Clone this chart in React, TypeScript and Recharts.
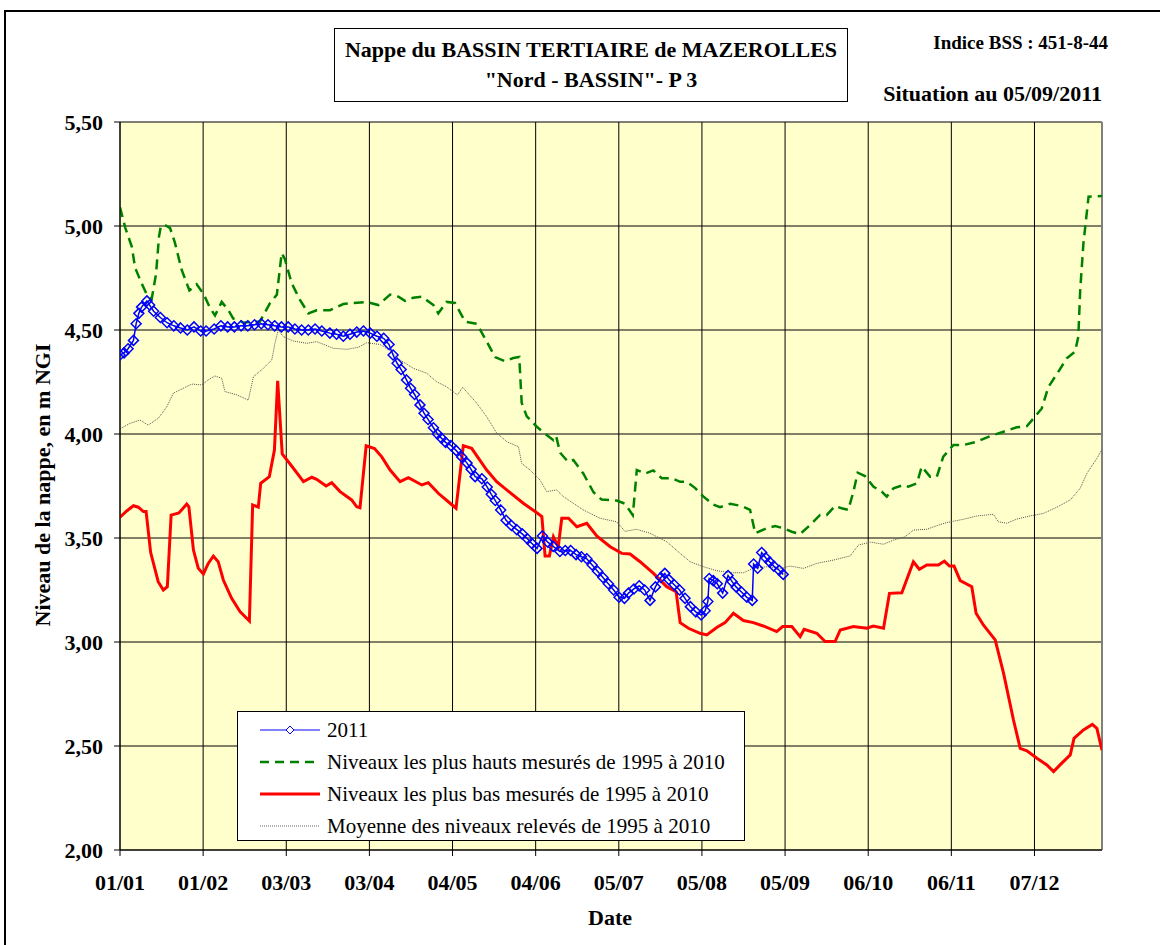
import React from 'react';
import {
  LineChart,
  Line,
  XAxis,
  YAxis,
  CartesianGrid,
  Legend,
  ReferenceLine
} from 'recharts';

// day of year (0 = 01/01) and level in m NGI
const days2011 = [0, 1.5, 3, 5, 6, 7, 8, 10, 11, 12.5, 15, 17.5, 20, 22.5, 25, 27.5, 30, 32, 35, 37.5, 40, 42.5, 45, 47.5, 50, 52.5, 55, 57.5, 60, 62.5, 65, 67.5, 70, 72.5, 75, 78, 80.5, 83, 85.5, 88, 90.5, 93, 95.5, 98, 100, 101.5, 103, 104.5, 106.5, 108, 109.5, 111.5, 113, 114.5, 116.5, 118, 119.5, 121, 123, 125, 127, 129, 130.5, 132, 134.5, 136.5, 138, 139.5, 141.5, 143.5, 145.5, 147.5, 149.5, 151.5, 153, 155, 157, 159, 161, 163.5, 165.5, 167.5, 169.5, 171.5, 173.5, 175.5, 177.5, 179.5, 181.5, 183.5, 185.5, 187.5, 189, 191, 193, 195, 197, 199, 201, 202.5, 204, 206, 208, 210, 212, 214, 216, 217.5, 218.5, 219, 220.5, 222, 224, 226, 227.5, 229, 231, 233, 235, 235.5, 237, 238.5, 240, 241.5, 243, 245, 246.5];
const level2011 = [4.38, 4.39, 4.41, 4.45, 4.53, 4.58, 4.61, 4.64, 4.62, 4.59, 4.56, 4.535, 4.52, 4.51, 4.5, 4.515, 4.495, 4.495, 4.505, 4.52, 4.515, 4.515, 4.52, 4.52, 4.525, 4.53, 4.525, 4.52, 4.515, 4.515, 4.505, 4.5, 4.5, 4.505, 4.495, 4.485, 4.48, 4.47, 4.48, 4.49, 4.495, 4.485, 4.47, 4.46, 4.43, 4.38, 4.34, 4.31, 4.26, 4.22, 4.19, 4.14, 4.1, 4.07, 4.03, 4.0, 3.98, 3.96, 3.945, 3.92, 3.89, 3.86, 3.83, 3.795, 3.785, 3.745, 3.71, 3.68, 3.635, 3.585, 3.56, 3.54, 3.52, 3.495, 3.475, 3.45, 3.51, 3.48, 3.46, 3.435, 3.44, 3.44, 3.42, 3.41, 3.4, 3.37, 3.34, 3.31, 3.28, 3.25, 3.215, 3.21, 3.235, 3.255, 3.27, 3.25, 3.2, 3.265, 3.31, 3.33, 3.3, 3.275, 3.25, 3.21, 3.17, 3.145, 3.13, 3.15, 3.195, 3.305, 3.295, 3.28, 3.235, 3.32, 3.29, 3.265, 3.24, 3.215, 3.2, 3.375, 3.355, 3.43, 3.405, 3.385, 3.365, 3.345, 3.325];

const daysHigh = [0, 2, 4.4, 5.6, 8, 10, 11.8, 13.4, 14.5, 15.2, 16.7, 18.6, 20.4, 22.9, 25.8, 28.5, 31, 33.5, 35.3, 37.8, 40.3, 42.1, 44, 45.8, 49, 52, 55.8, 58.3, 60.1, 61.3, 63.8, 66.9, 70, 73.1, 78, 83, 86.7, 91.7, 96, 100.4, 103.5, 105.9, 109, 112.2, 116.5, 118.3, 121.4, 124.5, 128.3, 132.6, 136.3, 139.4, 143.1, 146.2, 148.4, 149.3, 151.2, 154.9, 158.6, 161.1, 162.1, 163.6, 166.5, 168.5, 172.2, 176, 179, 184.6, 187.7, 190.6, 192.1, 195.2, 198.2, 201.4, 205.1, 208.2, 210.7, 213.8, 216.8, 220.6, 223, 226.8, 231.1, 234.2, 236.1, 240.4, 243.5, 246.6, 249.7, 252.8, 256.5, 260.2, 262.7, 265.8, 268.2, 270.7, 272.6, 274.2, 276.9, 280, 283.1, 285, 287.5, 291.2, 293, 296.2, 298, 301.1, 303.6, 306, 309.8, 313.5, 318.5, 323.4, 328.4, 333.3, 337.1, 340.1, 342.6, 345.1, 348.8, 351.9, 355, 356.2, 356.9, 358.1, 360, 365];
const levelHigh = [5.09, 4.99, 4.9, 4.8, 4.725, 4.67, 4.65, 4.77, 4.95, 5.0, 5.005, 4.99, 4.92, 4.79, 4.69, 4.72, 4.675, 4.605, 4.57, 4.635, 4.595, 4.555, 4.55, 4.535, 4.54, 4.54, 4.63, 4.67, 4.87, 4.84, 4.725, 4.645, 4.58, 4.595, 4.595, 4.625, 4.63, 4.635, 4.62, 4.67, 4.66, 4.64, 4.655, 4.66, 4.62, 4.58, 4.635, 4.63, 4.54, 4.53, 4.445, 4.37, 4.35, 4.365, 4.37, 4.15, 4.085, 4.035, 3.995, 3.97, 3.99, 3.91, 3.867, 3.875, 3.81, 3.72, 3.685, 3.68, 3.665, 3.61, 3.827, 3.81, 3.825, 3.787, 3.787, 3.77, 3.77, 3.74, 3.7, 3.66, 3.648, 3.664, 3.654, 3.635, 3.523, 3.547, 3.558, 3.547, 3.53, 3.519, 3.562, 3.611, 3.611, 3.654, 3.643, 3.635, 3.723, 3.814, 3.798, 3.747, 3.723, 3.699, 3.739, 3.755, 3.747, 3.763, 3.843, 3.795, 3.795, 3.891, 3.947, 3.947, 3.963, 3.99, 4.011, 4.032, 4.038, 4.083, 4.123, 4.227, 4.3, 4.364, 4.396, 4.468, 4.692, 4.917, 5.141, 5.144];

const daysLow = [0, 2.5, 5, 6.8, 8.7, 9.7, 11.4, 14.2, 16.1, 17.6, 19, 21.9, 24.8, 25.6, 27.3, 29.1, 31, 32.8, 34.7, 36.5, 38.4, 41.5, 44.6, 48.1, 49.3, 51.4, 52.3, 55.5, 57.4, 58.6, 60.3, 63.8, 68.2, 71.3, 73.1, 76.6, 78.7, 81.8, 86.1, 88, 89.2, 91.5, 94.6, 97.3, 100.4, 104.1, 107.2, 112.2, 114.6, 118.3, 122.7, 124.9, 127.6, 130.7, 136.3, 140, 145, 149.9, 154.3, 156.8, 158, 159.6, 161.1, 162.9, 164.2, 166.7, 169.8, 173.5, 177.2, 182.2, 186.5, 189.6, 193.3, 198.3, 203.2, 206.7, 208.2, 211.3, 215.6, 218.1, 221.8, 224.9, 228, 231.7, 235.4, 239.1, 244.1, 246.3, 249.7, 252.8, 254.3, 259, 262.1, 265.8, 267.7, 272.6, 277.6, 280, 283.8, 286, 290.6, 294.9, 297.1, 299.9, 304.2, 306.4, 308.3, 310, 312.3, 316.6, 318.2, 320.9, 325.3, 328.4, 332.1, 334.6, 337.1, 340.8, 344.5, 347, 349.4, 353.2, 354.6, 358.1, 361.4, 363.1, 365];
const levelLow = [3.6, 3.63, 3.655, 3.648, 3.627, 3.627, 3.43, 3.29, 3.25, 3.266, 3.61, 3.62, 3.663, 3.65, 3.442, 3.354, 3.327, 3.378, 3.413, 3.386, 3.298, 3.21, 3.146, 3.101, 3.659, 3.648, 3.763, 3.795, 3.923, 4.256, 3.904, 3.846, 3.771, 3.792, 3.782, 3.75, 3.766, 3.723, 3.683, 3.65, 3.645, 3.943, 3.93, 3.89, 3.827, 3.771, 3.79, 3.755, 3.766, 3.715, 3.667, 3.643, 3.944, 3.931, 3.827, 3.771, 3.718, 3.667, 3.627, 3.603, 3.414, 3.414, 3.506, 3.458, 3.595, 3.595, 3.554, 3.571, 3.51, 3.458, 3.426, 3.423, 3.386, 3.33, 3.266, 3.242, 3.093, 3.066, 3.042, 3.034, 3.07, 3.093, 3.138, 3.103, 3.093, 3.077, 3.05, 3.074, 3.074, 3.026, 3.061, 3.042, 3.002, 3.002, 3.058, 3.074, 3.066, 3.077, 3.066, 3.234, 3.237, 3.386, 3.35, 3.37, 3.37, 3.389, 3.365, 3.365, 3.295, 3.266, 3.138, 3.082, 3.01, 2.85, 2.625, 2.489, 2.477, 2.441, 2.409, 2.377, 2.409, 2.457, 2.537, 2.577, 2.604, 2.585, 2.48];

const daysMean = [0, 3.7, 7.4, 10.5, 14.2, 17.4, 19.8, 23.5, 26.7, 30.4, 32.8, 35.3, 37.8, 39, 43.4, 47.7, 49.6, 53.3, 56.4, 57.6, 58.8, 60.7, 64.4, 69.4, 73.1, 79.3, 84.3, 88.6, 91.7, 96.7, 100.4, 104.1, 109, 114, 117.7, 121.4, 125.4, 127.4, 132.6, 136.3, 140, 143.8, 148.1, 149.3, 152.4, 156.1, 158.6, 162.3, 164.8, 172.2, 178.4, 184.6, 187.7, 192, 197, 203.2, 208.2, 211.9, 216.8, 221.8, 226.8, 231.7, 235.4, 240.4, 245.4, 249.1, 254, 259, 265.2, 271.4, 274.5, 279, 283.8, 287.5, 291.8, 294.9, 299.9, 304.2, 307.3, 313.5, 318.5, 324.6, 326.5, 329.6, 333.3, 338.3, 343.2, 348.2, 353.2, 356.9, 359.4, 363.1, 365];
const levelMean = [4.025, 4.051, 4.067, 4.043, 4.075, 4.131, 4.196, 4.22, 4.24, 4.236, 4.26, 4.279, 4.268, 4.204, 4.188, 4.163, 4.276, 4.316, 4.356, 4.436, 4.5, 4.468, 4.447, 4.436, 4.444, 4.412, 4.407, 4.417, 4.439, 4.43, 4.4, 4.356, 4.316, 4.292, 4.251, 4.227, 4.188, 4.224, 4.148, 4.083, 4.005, 3.963, 3.939, 3.859, 3.827, 3.779, 3.723, 3.731, 3.699, 3.635, 3.595, 3.578, 3.532, 3.542, 3.523, 3.482, 3.426, 3.386, 3.362, 3.343, 3.333, 3.333, 3.354, 3.362, 3.354, 3.365, 3.354, 3.378, 3.394, 3.414, 3.466, 3.48, 3.47, 3.49, 3.506, 3.538, 3.542, 3.562, 3.574, 3.59, 3.606, 3.614, 3.578, 3.571, 3.591, 3.606, 3.618, 3.648, 3.683, 3.739, 3.811, 3.883, 3.925];

const tickDays = [0, 30.9, 61.8, 92.7, 123.6, 154.5, 185.4, 216.3, 247.2, 278.1, 309, 339.9];
const tickLabels = ['01/01', '01/02', '03/03', '03/04', '04/05', '04/06', '05/07', '05/08', '05/09', '06/10', '06/11', '07/12'];
const levelTicks = [2, 2.5, 3, 3.5, 4, 4.5, 5, 5.5];

const legendNames = [
  '2011',
  'Niveaux les plus hauts mesurés de 1995 à 2010',
  'Niveaux les plus bas mesurés de 1995 à 2010',
  'Moyenne des niveaux relevés de 1995 à 2010'
];

const toPoints = (days: number[], values: number[]) =>
  days.map((day, i) => ({ day, value: values[i] }));

const serif = '"Liberation Serif", "Times New Roman", serif';

const Diamond = (props: any) => {
  const { cx, cy, index } = props;
  if (cx == null || cy == null) return <g key={`d-${index}`} />;
  const r = 5;
  return (
    <path
      key={`d-${index}`}
      d={`M${cx},${cy - r}L${cx + r},${cy}L${cx},${cy + r}L${cx - r},${cy}Z`}
      stroke="#0000FF"
      strokeWidth={1.5}
      fill="none"
    />
  );
};

const LegendBox = () => {
  const sample = (i: number) => {
    if (i === 0)
      return (
        <>
          <line x1={0} y1={8} x2={60} y2={8} stroke="#0000FF" strokeWidth={1} />
          <path d="M30,4L34,8L30,12L26,8Z" stroke="#0000FF" fill="#fff" strokeWidth={1} />
        </>
      );
    if (i === 1) return <line x1={0} y1={8} x2={60} y2={8} stroke="#008000" strokeWidth={2.5} strokeDasharray="9 6" />;
    if (i === 2) return <line x1={0} y1={8} x2={60} y2={8} stroke="#FF0000" strokeWidth={3} />;
    return <line x1={0} y1={8} x2={60} y2={8} stroke="#666" strokeWidth={1} strokeDasharray="1 1" />;
  };
  return (
    <div
      style={{
        width: 508,
        height: 130,
        boxSizing: 'border-box',
        background: '#fff',
        border: '1.5px solid #000',
        paddingTop: 2,
        fontFamily: serif,
        fontSize: 21,
        color: '#000'
      }}
    >
      {legendNames.map((name, i) => (
        <div key={name} style={{ height: 32, display: 'flex', alignItems: 'center' }}>
          <svg width={62} height={16} style={{ marginLeft: 22, marginRight: 5 }}>
            {sample(i)}
          </svg>
          <span>{name}</span>
        </div>
      ))}
    </div>
  );
};

const boldText: React.CSSProperties = {
  position: 'absolute',
  fontFamily: serif,
  fontWeight: 'bold',
  color: '#000',
  whiteSpace: 'nowrap'
};

export default function App() {
  const data2011 = toPoints(days2011, level2011);
  const dataHigh = toPoints(daysHigh, levelHigh);
  const dataLow = toPoints(daysLow, levelLow);
  const dataMean = toPoints(daysMean, levelMean);

  return (
    <div style={{ position: 'absolute', left: 0, top: 0, width: 1160, height: 945, overflow: 'hidden', background: '#fff' }}>
      <div style={{ position: 'absolute', left: 4, top: 10, width: 1300, height: 1100, border: '2px solid #000' }} />

      <div
        style={{
          position: 'absolute',
          left: 334,
          top: 28,
          width: 514,
          height: 74,
          boxSizing: 'border-box',
          border: '1px solid #000',
          background: '#fff',
          display: 'flex',
          flexDirection: 'column',
          justifyContent: 'center',
          alignItems: 'center',
          fontFamily: serif,
          fontWeight: 'bold',
          fontSize: 22,
          lineHeight: '30px'
        }}
      >
        <div>Nappe du BASSIN TERTIAIRE de MAZEROLLES</div>
        <div>"Nord - BASSIN"- P 3</div>
      </div>

      <div style={{ ...boldText, right: 1160 - 1108, top: 32, fontSize: 19 }}>Indice BSS : 451-8-44</div>
      <div style={{ ...boldText, right: 1160 - 1102, top: 81, fontSize: 22 }}>Situation au 05/09/2011</div>

      <div style={{ position: 'absolute', left: 0, top: 0 }}>
        <LineChart width={1160} height={945} margin={{ top: 122, right: 58, bottom: 55, left: 0 }}>
          <CartesianGrid stroke="#000" strokeWidth={1} fill="#FFFFCC" fillOpacity={1} />
          <XAxis
            dataKey="day"
            type="number"
            domain={[0, 365]}
            ticks={tickDays}
            tickFormatter={(v: number, i: number) => tickLabels[i]}
            height={40}
            tickSize={6}
            tickMargin={18}
            stroke="#000"
            tick={{ fill: '#000', fontFamily: serif, fontWeight: 'bold', fontSize: 22 }}
            allowDataOverflow
          />
          <YAxis
            type="number"
            domain={[2, 5.5]}
            ticks={levelTicks}
            width={120}
            tickSize={6}
            tickMargin={11}
            stroke="#000"
            tickFormatter={(v: number) => v.toFixed(2).replace('.', ',')}
            tick={{ fill: '#000', fontFamily: serif, fontWeight: 'bold', fontSize: 22 }}
            allowDataOverflow
          />
          <ReferenceLine x={365} stroke="#808080" strokeWidth={2} />
          <Line
            data={dataMean}
            dataKey="value"
            name={legendNames[3]}
            stroke="#555"
            strokeWidth={1}
            strokeDasharray="1 1"
            dot={false}
            activeDot={false}
            isAnimationActive={false}
          />
          <Line
            data={dataHigh}
            dataKey="value"
            name={legendNames[1]}
            stroke="#008000"
            strokeWidth={2.5}
            strokeDasharray="10 6"
            dot={false}
            activeDot={false}
            isAnimationActive={false}
          />
          <Line
            data={dataLow}
            dataKey="value"
            name={legendNames[2]}
            stroke="#FF0000"
            strokeWidth={3}
            dot={false}
            activeDot={false}
            isAnimationActive={false}
          />
          <Line
            data={data2011}
            dataKey="value"
            name={legendNames[0]}
            stroke="#0000FF"
            strokeWidth={1.5}
            dot={(p: any) => <Diamond {...p} />}
            activeDot={false}
            isAnimationActive={false}
          />
          <Legend
            layout="horizontal"
            verticalAlign="middle"
            align="center"
            content={() => <LegendBox />}
            wrapperStyle={{ position: 'absolute', left: 237, top: 711, width: 508, height: 130 }}
          />
        </LineChart>
      </div>

      <div
        style={{
          ...boldText,
          left: 43,
          top: 485,
          fontSize: 22,
          transform: 'translate(-50%, -50%) rotate(-90deg)'
        }}
      >
        Niveau de la nappe, en m NGI
      </div>
      <div style={{ ...boldText, left: 610, top: 918, fontSize: 22, transform: 'translate(-50%, -50%)' }}>Date</div>
    </div>
  );
}
